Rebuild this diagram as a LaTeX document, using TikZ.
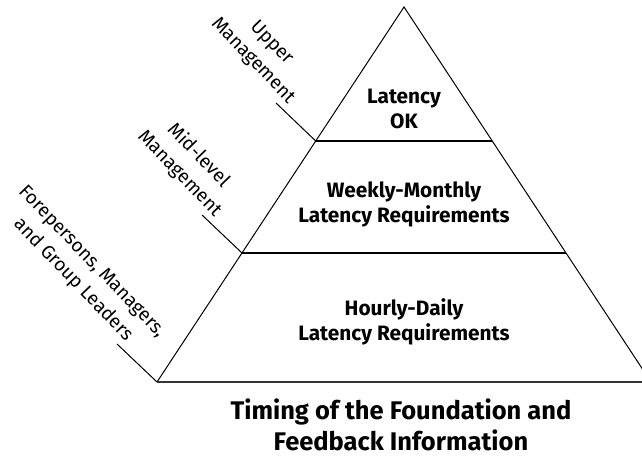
\documentclass[tikz,border=0pt]{standalone}
\usepackage{fontspec}
\setmainfont{Fira Sans}
\begin{document}
\begin{tikzpicture}[x=1pt,y=-1pt,
  edge/.style={line width=1pt},
  divider/.style={line width=1.3pt},
  leader/.style={line width=1pt},
  level/.style={font=\bfseries\fontsize{20.8}{25}\selectfont, align=center},
  role/.style={font=\fontsize{19}{26}\selectfont, align=center, rotate=-46},
  title/.style={font=\bfseries\fontsize{25.5}{31}\selectfont, align=center}]
\useasboundingbox (0,0) rectangle (642,458);
\clip (0,0) rectangle (642,458);
% triangle corners and level points
\coordinate (apex) at (404,7);
\coordinate (bl) at (157,382);
\coordinate (br) at (651,382);
\coordinate (l1) at (315.7,141);
\coordinate (r1) at (492.3,141);
\coordinate (l2) at (242,253);
\coordinate (r2) at (566,253);
\draw[edge] (bl) -- (apex) -- (br);
\draw[line width=1.8pt, black!80] (bl) -- (br);
\draw[divider] (l1) -- (r1);
\draw[divider] (l2) -- (r2);
% leader ends
\coordinate (u0) at (276,103);
\coordinate (m0) at (202,215);
\coordinate (f0) at (117,344);
\draw[leader] (u0) -- (l1);
\draw[leader] (m0) -- (l2);
\draw[leader] (f0) -- (bl);
% level texts
\node[level] (top) at (404,109) {Latency\\OK};
\node[level] (mid) at (404,204) {Weekly-Monthly\\Latency Requirements};
\node[level] (low) at (404,322) {Hourly-Daily\\Latency Requirements};
% role labels
\node[role] (upper) at (262,52) {Upper\\Management};
\node[role] (midlevel) at (189,164.5) {Mid-level\\Management};
\node[role] (fore) at (82,271) {Forepersons, Managers,\\and Group Leaders};
% title
\node[title] (caption) at (401,425) {Timing of the Foundation and\\Feedback Information};
\end{tikzpicture}
\end{document}
